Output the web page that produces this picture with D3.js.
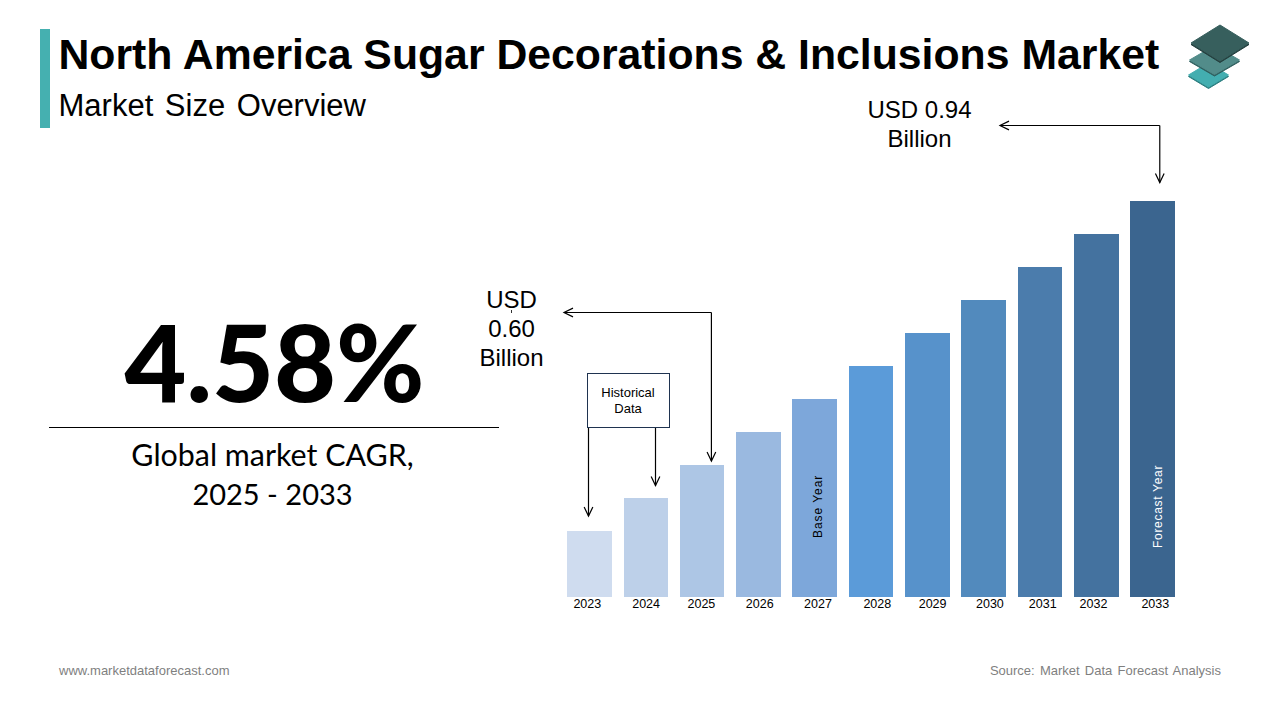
<!DOCTYPE html>
<html>
<head>
    <title>North America Sugar Decorations & Inclusions Market</title>
    <script src="https://d3js.org/d3.v7.min.js"></script>
    <style>
        html, body { margin: 0; padding: 0; background: #fff; }
        svg { display: block; }
        text { font-family: "Liberation Sans", Arial, sans-serif; fill: #000; }
        .big { font-family: Lato, sans-serif; }
    </style>
</head>
<body>
    <div id="chart"></div>
    <script>
        const years = ["2023", "2024", "2025", "2026", "2027", "2028", "2029", "2030", "2031", "2032", "2033"];
        const marketSize = [0.515, 0.558, 0.60, 0.643, 0.685, 0.728, 0.77, 0.813, 0.855, 0.898, 0.94];
        const barColors = ["#cfdcef", "#bdd0e9", "#adc6e5", "#9ab9e0", "#7da7da", "#5b9bd9", "#5792cb", "#528abd", "#4b7cac", "#44729f", "#3b658f"];
        // the year labels are not quite centred under their bars in the original
        const tickNudge = [-2.5, 0, -1, 1, 3, 6, 5, 6, 2.5, -3, 2.5];

        const width = 1280, height = 720;
        const svg = d3.select("#chart").append("svg")
            .attr("width", width)
            .attr("height", height);

        var xScale = d3.scaleBand().domain(years).range([567.3, 1175.3]).paddingInner(0.2).paddingOuter(0);
        var yScale = d3.scaleLinear().domain([0.43, 0.94]).range([597, 201]);

        // header
        svg.append("rect").attr("x", 40).attr("y", 29).attr("width", 10).attr("height", 99).attr("fill", "#45b0b0");

        svg.append("text")
            .attr("x", 58.5).attr("y", 69)
            .style("font-size", "42.75px").style("font-weight", "bold")
            .text("North America Sugar Decorations & Inclusions Market");

        svg.append("text")
            .attr("x", 58.5).attr("y", 116)
            .style("font-size", "31px")
            .style("word-spacing", "3px")
            .text("Market Size Overview");

        // layered logo top right
        var logo = svg.append("g");
        [[1208.5, 75, 20, 12, "#43aeb0", "#2a7d7f"], [1214.5, 60, 25, 14.5, "#528c8a", "#2f5f5e"], [1220, 43, 29, 18, "#375f5d", "#243f3e"]].forEach(function(p) {
            logo.append("path")
                .attr("d", "M" + (p[0] - p[2]) + "," + (p[1] + 1.5) + "L" + p[0] + "," + (p[1] + p[3] + 1.5) + "L" + (p[0] + p[2]) + "," + (p[1] + 1.5) + "Z")
                .attr("fill", p[5]).attr("stroke", p[5]).attr("stroke-linejoin", "round");
            logo.append("path")
                .attr("d", "M" + p[0] + "," + (p[1] - p[3]) + "L" + (p[0] + p[2]) + "," + p[1] + "L" + p[0] + "," + (p[1] + p[3]) + "L" + (p[0] - p[2]) + "," + p[1] + "Z")
                .attr("fill", p[4]).attr("stroke", p[4]).attr("stroke-linejoin", "round");
        });

        // left panel
        svg.append("text")
            .attr("class", "big")
            .attr("x", 274.5).attr("y", 401.5)
            .style("text-anchor", "middle")
            .style("font-size", "107px").style("font-weight", "900")
            .text("4.58%");

        svg.append("line")
            .attr("x1", 49).attr("x2", 499).attr("y1", 427.5).attr("y2", 427.5)
            .style("stroke", "#000").style("stroke-width", 1);

        [["Global market CAGR,", 30.4, 465.5], ["2025 - 2033", 29, 505]].forEach(function(t) {
            svg.append("text")
                .attr("class", "big")
                .attr("x", 272.5).attr("y", t[2])
                .style("text-anchor", "middle")
                .style("font-size", t[1] + "px")
                .text(t[0]);
        });

        // bars
        svg.selectAll(".bar")
            .data(marketSize)
            .enter().append("rect")
            .attr("class", "bar")
            .attr("x", function(d, i) { return Math.round(xScale(years[i])); })
            .attr("y", function(d) { return Math.round(yScale(d)); })
            .attr("width", function(d, i) {
                var x0 = xScale(years[i]);
                return Math.round(x0 + xScale.bandwidth() - 0.5) - Math.round(x0);
            })
            .attr("height", function(d) { return yScale.range()[0] - Math.round(yScale(d)); })
            .attr("fill", function(d, i) { return barColors[i]; });

        var xAxis = svg.append("g")
            .attr("transform", "translate(0,597)")
            .call(d3.axisBottom(xScale).tickSize(0).tickPadding(0));
        xAxis.select(".domain").remove();
        xAxis.selectAll("text")
            .attr("dx", function(d, i) { return tickNudge[i]; })
            .attr("dy", "0.87em")
            .style("font-family", '"Liberation Sans", Arial, sans-serif')
            .style("font-size", "12.5px")
            .style("fill", "#000");

        function center(year) { return xScale(year) + xScale.bandwidth() / 2; }
        function valueOf(year) { return marketSize[years.indexOf(year)]; }

        // vertical labels inside the bars
        function barLabel(label, x, y, color, spacing) {
            svg.append("text")
                .attr("transform", "translate(" + x + "," + y + ") rotate(-90)")
                .style("font-size", "12px")
                .style("letter-spacing", spacing + "px")
                .style("fill", color)
                .text(label);
        }
        barLabel("Base Year", center("2027") + 7, 538, "#000", 0.95);
        barLabel("Forecast Year", center("2033") + 9, 548, "#fff", 0.7);

        // open-headed arrows
        function arrow(points) {
            var line = d3.line();
            svg.append("path")
                .attr("d", line(points))
                .attr("fill", "none")
                .attr("stroke", "#000")
                .attr("stroke-width", 1.2);
            var end = points[points.length - 1], prev = points[points.length - 2];
            var a = Math.atan2(end[1] - prev[1], end[0] - prev[0]);
            var head = [
                [end[0] - 10 * Math.cos(a - 0.45), end[1] - 10 * Math.sin(a - 0.45)],
                end,
                [end[0] - 10 * Math.cos(a + 0.45), end[1] - 10 * Math.sin(a + 0.45)]
            ];
            svg.append("path")
                .attr("d", line(head))
                .attr("fill", "none")
                .attr("stroke", "#000")
                .attr("stroke-width", 1.2);
        }

        var x2025 = center("2025") + 9, x2033 = center("2033") + 7;
        arrow([[x2025, 312.5], [x2025, yScale(valueOf("2025")) - 4]]);
        arrow([[x2025, 312.5], [564, 312.5]]);
        arrow([[x2033, 125.5], [x2033, yScale(valueOf("2033")) - 18.5]]);
        arrow([[x2033, 125.5], [1000, 125.5]]);
        arrow([[588.5, 428], [588.5, yScale(valueOf("2023")) - 15]]);
        arrow([[655.5, 428], [655.5, yScale(valueOf("2024")) - 12]]);

        // historical data box
        svg.append("rect")
            .attr("x", 587.5).attr("y", 373.5).attr("width", 82).attr("height", 54)
            .attr("fill", "#fff").attr("stroke", "#1f3350").attr("stroke-width", 1);
        ["Historical", "Data"].forEach(function(t, i) {
            svg.append("text")
                .attr("x", 628).attr("y", 397 + i * 16)
                .style("text-anchor", "middle")
                .style("font-size", "13px")
                .text(t);
        });

        // callouts
        ["USD", "0.60", "Billion"].forEach(function(t, i) {
            svg.append("text")
                .attr("x", 511.5).attr("y", 308 + i * 29)
                .style("text-anchor", "middle")
                .style("font-size", "24px")
                .text(t);
        });
        // small stray tick under the USD label
        svg.append("line")
            .attr("x1", 511.5).attr("x2", 511.5).attr("y1", 310).attr("y2", 313)
            .style("stroke", "#333").style("stroke-width", 1);
        ["USD 0.94", "Billion"].forEach(function(t, i) {
            svg.append("text")
                .attr("x", 919.5).attr("y", 118 + i * 29)
                .style("text-anchor", "middle")
                .style("font-size", "24px")
                .text(t);
        });

        // footer
        svg.append("text")
            .attr("x", 59).attr("y", 675)
            .style("font-size", "13px").style("fill", "#7f7f7f")
            .text("www.marketdataforecast.com");
        svg.append("text")
            .attr("x", 1221).attr("y", 675)
            .style("text-anchor", "end")
            .style("font-size", "13px").style("word-spacing", "1.6px").style("fill", "#7f7f7f")
            .text("Source: Market Data Forecast Analysis");
    </script>
</body>
</html>
